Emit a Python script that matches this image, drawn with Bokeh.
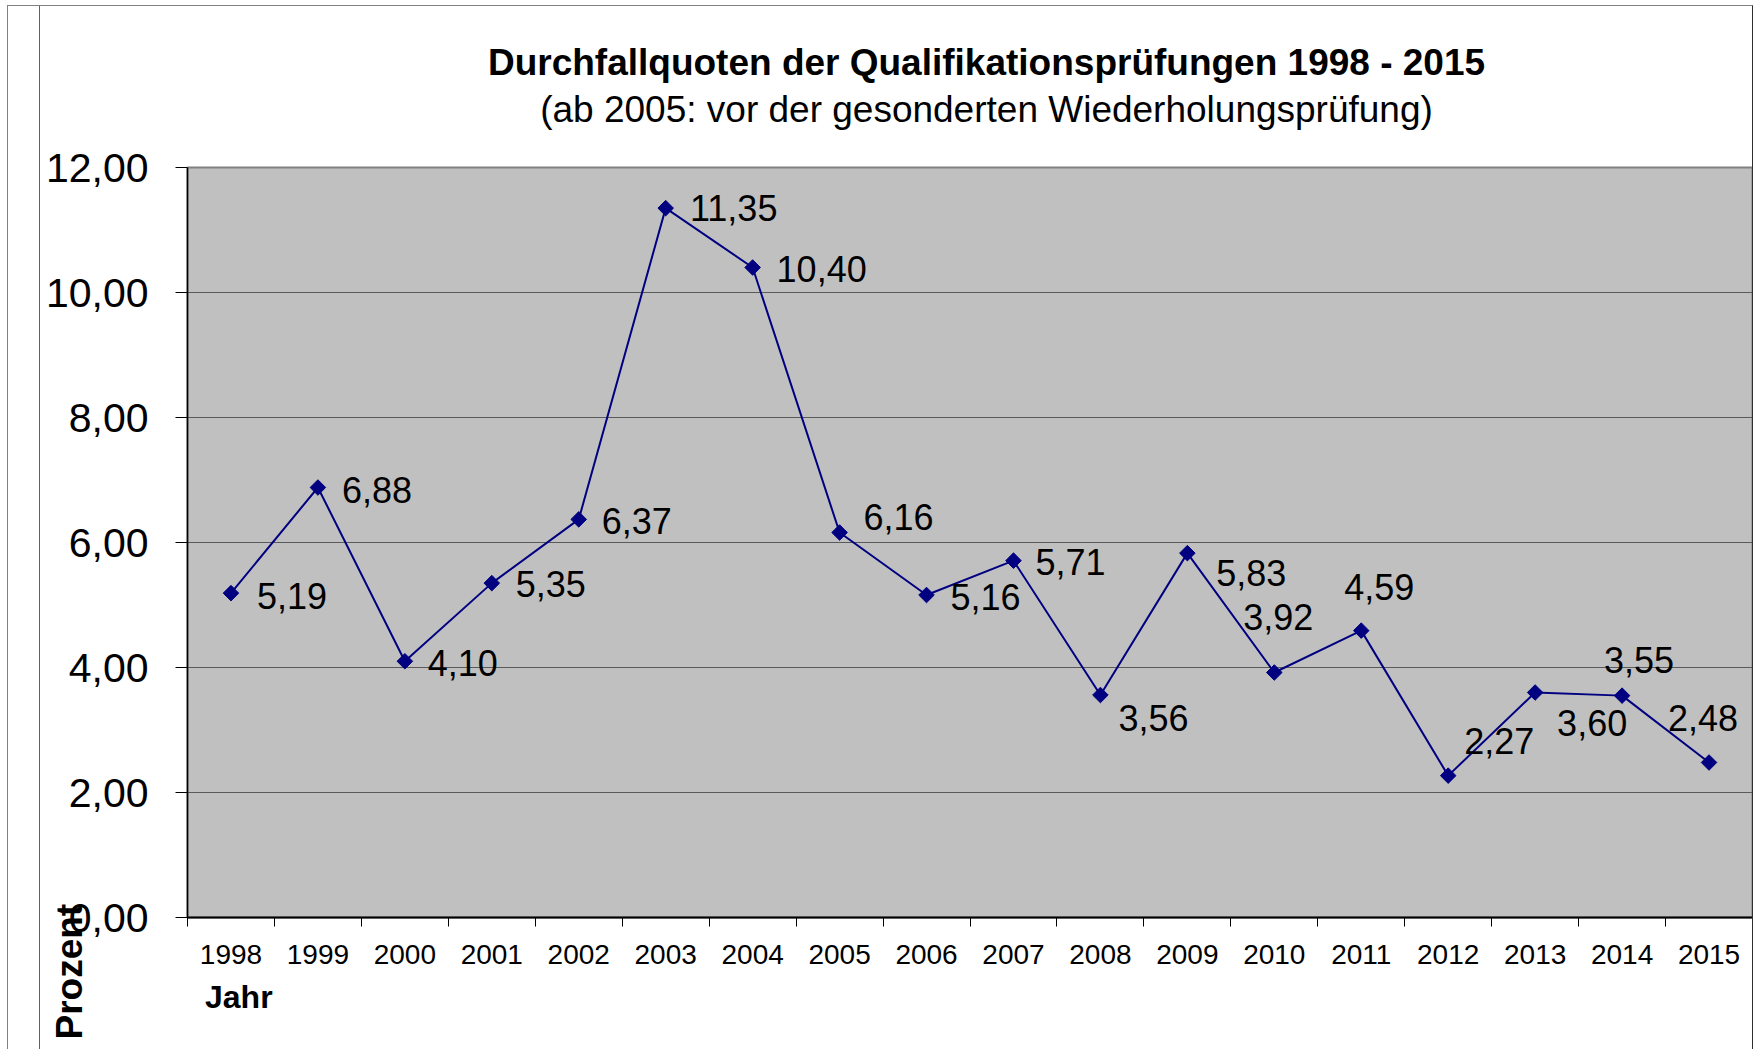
import numpy as np
from bokeh.plotting import figure
from bokeh.models import (ColumnDataSource, FixedTicker, Range1d, LinearAxis,
                          CustomJSTickFormatter, Title)
from bokeh.core.properties import value
from bokeh.embed import file_html
from bokeh.resources import INLINE

# ---- data ----
years = ["1998", "1999", "2000", "2001", "2002", "2003", "2004", "2005", "2006",
         "2007", "2008", "2009", "2010", "2011", "2012", "2013", "2014", "2015"]
rates = [5.19, 6.88, 4.10, 5.35, 6.37, 11.35, 10.40, 6.16, 5.16,
         5.71, 3.56, 5.83, 3.92, 4.59, 2.27, 3.60, 3.55, 2.48]
y_ticks = [0, 2, 4, 6, 8, 10, 12]

title_text = "Durchfallquoten der Qualifikationsprüfungen 1998 - 2015"
subtitle_text = "(ab 2005: vor der gesonderten Wiederholungsprüfung)"
x_label = "Jahr"
y_label = "Prozent"

# ---- placement (style) ----
# data-label offsets in screen pixels (dy positive = down)
label_dx = [61, 59, 58, 59, 58, 68, 69, 59, 59, 57, 53, 64, 4, 18, 51, 57, 17, -6]
label_dy = [3, 2, 2, 1, 2, 0, 1, -16, 2, 1, 23, 20, -56, -44, -35, 30, -36, -45]
TITLE_CENTER_X = 9.19   # horizontal centre of the title lines (x-axis units)
XNAME_CENTER_X = 0.59   # horizontal centre of "Jahr"

FONT = "Liberation Sans"

xs = [i + 0.5 for i in range(len(years))]
texts = [f"{v:.2f}".replace(".", ",") for v in rates]
src = ColumnDataSource(dict(x=xs, y=rates, label=texts, dx=label_dx, dy=label_dy))

W, H = 1746, 1044
p = figure(width=W, height=H, output_backend="svg", toolbar_location=None,
           x_range=Range1d(0, len(years)), y_range=Range1d(0, 12),
           min_border_left=179, min_border_right=2, min_border_top=161,
           min_border_bottom=133, title=None)
p.border_fill_color = None
p.styles = {"margin-left": "7px", "margin-top": "5px",
            "border-left": "1px solid #808080", "border-top": "1px solid #808080",
            "border-right": "1px solid #303030",
            "background-color": "white",
            "background-image": "linear-gradient(#606060, #606060)",
            "background-size": "1px 100%", "background-position": "31px 0",
            "background-repeat": "no-repeat"}

p.background_fill_color = "#C0C0C0"
p.outline_line_color = "#808080"
p.outline_line_width = 2

# x axis: labels at category centres, ticks at boundaries (minor ticks)
p.xaxis.ticker = FixedTicker(ticks=xs, minor_ticks=list(range(len(years) + 1)))
p.xaxis.major_label_overrides = {x: y for x, y in zip(xs, years)}
p.xaxis.major_tick_out = 0
p.xaxis.major_tick_in = 0
p.xaxis.minor_tick_out = 9
p.xaxis.minor_tick_in = 0
p.xaxis.minor_tick_line_color = "black"
p.xaxis.axis_line_color = "black"
p.xaxis.axis_line_width = 2
p.xaxis.major_label_text_font = FONT
p.xaxis.major_label_text_font_size = "28px"
p.xaxis.major_label_text_color = "black"
p.xaxis.major_label_standoff = 18

# y axis
p.yaxis.ticker = FixedTicker(ticks=y_ticks, minor_ticks=[])
p.yaxis.formatter = CustomJSTickFormatter(code="return tick.toFixed(2).replace('.', ',');")
p.yaxis.major_tick_out = 12
p.yaxis.major_tick_in = 0
p.yaxis.major_tick_line_color = "black"
p.yaxis.axis_line_color = "black"
p.yaxis.axis_line_width = 1.5
p.yaxis.major_label_text_font = FONT
p.yaxis.major_label_text_font_size = "41px"
p.yaxis.major_label_text_color = "black"
p.yaxis.major_label_standoff = 27

p.xgrid.grid_line_color = None
p.ygrid.grid_line_color = "#5a5a5a"
p.ygrid.grid_line_width = 1

# data
p.line("x", "y", source=src, line_color="#000080", line_width=2)
p.scatter("x", "y", source=src, marker="square", angle=np.pi / 4, size=11,
          fill_color="#000080", line_color="#000080")
p.text("x", "y", text="label", source=src, x_offset="dx", y_offset="dy",
       text_align="center", text_baseline="middle",
       text_font=value(FONT), text_font_size="36px", text_color="black")


def text_axis(pos, text, size, style, standoff):
    return LinearAxis(ticker=FixedTicker(ticks=[pos], minor_ticks=[]),
                      major_label_overrides={pos: text},
                      axis_line_color=None, major_tick_line_color=None,
                      minor_tick_line_color=None, major_tick_out=0, major_tick_in=0,
                      minor_tick_out=0, minor_tick_in=0,
                      major_label_standoff=standoff, major_label_text_font=FONT,
                      major_label_text_font_size=size, major_label_text_font_style=style,
                      major_label_text_color="black")


# subtitle (closest to the frame), then title
p.add_layout(text_axis(TITLE_CENTER_X, subtitle_text, "37px", "normal", 38), "above")
p.add_layout(text_axis(TITLE_CENTER_X, title_text, "37px", "bold", 3), "above")
# x-axis name
p.add_layout(text_axis(XNAME_CENTER_X, x_label, "32px", "bold", 12), "below")
# y-axis name
p.add_layout(Title(text=y_label, align="left", offset=-122, standoff=-94,
                   vertical_align="bottom", text_font=FONT, text_font_size="37px",
                   text_font_style="bold", text_color="black"), "left")

open("out.html", "w").write(file_html(p, INLINE))
